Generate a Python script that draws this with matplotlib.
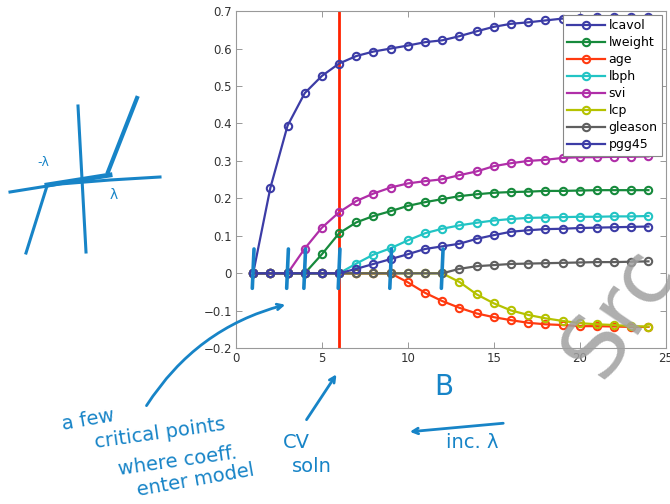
import matplotlib
matplotlib.use("Agg")
import matplotlib.pyplot as plt
import numpy as np

steps = list(range(1, 25))

lcavol = [0.0, 0.228, 0.394, 0.481, 0.527, 0.560, 0.580, 0.592, 0.600, 0.608, 0.617, 0.622,
          0.633, 0.646, 0.658, 0.666, 0.670, 0.675, 0.680, 0.682, 0.684, 0.684, 0.685, 0.685]
lweight = [0.0, 0.0, 0.0, 0.0, 0.051, 0.107, 0.136, 0.153, 0.166, 0.180, 0.190, 0.198,
           0.206, 0.211, 0.215, 0.217, 0.218, 0.220, 0.220, 0.221, 0.222, 0.222, 0.222, 0.222]
age = [0.0, 0.0, 0.0, 0.0, 0.0, 0.0, 0.0, 0.0, 0.0, -0.024, -0.052, -0.074,
       -0.092, -0.107, -0.117, -0.125, -0.132, -0.136, -0.138, -0.141, -0.141, -0.142, -0.143, -0.143]
lbph = [0.0, 0.0, 0.0, 0.0, 0.0, 0.0, 0.026, 0.050, 0.067, 0.088, 0.107, 0.119,
        0.128, 0.135, 0.141, 0.145, 0.148, 0.149, 0.150, 0.151, 0.151, 0.152, 0.152, 0.153]
svi = [0.0, 0.0, 0.0, 0.066, 0.122, 0.163, 0.193, 0.213, 0.229, 0.240, 0.246, 0.251,
       0.262, 0.272, 0.286, 0.294, 0.300, 0.303, 0.308, 0.310, 0.310, 0.311, 0.311, 0.312]
lcp = [0.0, 0.0, 0.0, 0.0, 0.0, 0.0, 0.0, 0.0, 0.0, 0.0, 0.0, 0.0,
       -0.023, -0.056, -0.080, -0.099, -0.111, -0.120, -0.127, -0.133, -0.136, -0.138, -0.141, -0.142]
gleason = [0.0, 0.0, 0.0, 0.0, 0.0, 0.0, 0.0, 0.0, 0.0, 0.0, 0.0, 0.0,
           0.012, 0.019, 0.022, 0.025, 0.026, 0.027, 0.028, 0.029, 0.030, 0.030, 0.031, 0.032]
pgg45 = [0.0, 0.0, 0.0, 0.0, 0.0, 0.0, 0.012, 0.025, 0.038, 0.051, 0.065, 0.072,
         0.079, 0.092, 0.102, 0.111, 0.115, 0.118, 0.119, 0.121, 0.122, 0.123, 0.124, 0.125]

names = ["lcavol", "lweight", "age", "lbph", "svi", "lcp", "gleason", "pgg45"]
series = [lcavol, lweight, age, lbph, svi, lcp, gleason, pgg45]
colors = ["#3c3ca6", "#168a3c", "#ff3a10", "#22c4c4", "#b02ea8", "#b5c200", "#5f5f5f", "#3c3ca6"]

cv_step = 6
critical_steps = [1, 3, 4, 6, 9, 12]

ink = "#1784c7"

fig = plt.figure(figsize=(6.7, 5.04), dpi=100)
ax = fig.add_axes([0.3522, 0.309, 0.6413, 0.669])

for name, vals, c in zip(names, series, colors):
    ax.plot(steps, vals, "-o", color=c, lw=1.6, ms=5.3, mew=1.5,
            mfc="none", label=name)

ax.axvline(cv_step, color="#ff2200", lw=2.0, zorder=1)

ax.set_xlim(0, 25)
ax.set_ylim(-0.2, 0.7)
ax.set_xticks([0, 5, 10, 15, 20, 25])
ax.set_yticks(np.arange(-0.2, 0.71, 0.1))
ax.set_yticklabels(["\u22120.2", "\u22120.1", "0", "0.1", "0.2", "0.3", "0.4", "0.5", "0.6", "0.7"])
ax.tick_params(direction="in", top=True, right=True, length=4, width=0.6,
               color="#888888", labelsize=8.5, labelcolor="#333333", pad=3)
for s in ax.spines.values():
    s.set_color("#999999")
    s.set_linewidth(0.8)

leg = ax.legend(loc="upper right", fontsize=9, handlelength=3.0, labelspacing=0.32,
                borderaxespad=0.3, fancybox=False, framealpha=1, borderpad=0.35,
                handletextpad=0.3)
leg.get_frame().set_edgecolor("#888888")
leg.get_frame().set_linewidth(0.8)

# handwritten critical point marks
for cs in critical_steps:
    ax.plot([cs - 0.05, cs + 0.05], [-0.04, 0.065], color=ink, lw=2.6,
            solid_capstyle="round", clip_on=False, zorder=6)

# overlay in pixel coords for the handwriting
ov = fig.add_axes([0, 0, 1, 1], facecolor="none")
ov.set_xlim(0, 670)
ov.set_ylim(504, 0)
ov.axis("off")

# left sketch
ov.plot([78, 86], [106, 252], color=ink, lw=2.2)
ov.plot([10, 60, 110, 160], [192, 184, 180, 177], color=ink, lw=2.2)
ov.plot([26, 47], [253, 186], color=ink, lw=2.2)
ov.plot([108, 137], [172, 98], color=ink, lw=3.0)
ov.plot([47, 110], [185, 175], color=ink, lw=3.5)
ov.text(43, 163, "-\u03bb", color=ink, fontsize=9, ha="center", va="center")
ov.text(114, 195, "\u03bb", color=ink, fontsize=10, ha="center", va="center")

# notes
hand = dict(color=ink, fontsize=14, ha="center", va="center")
ov.text(88, 420, "a few", rotation=10, **hand)
ov.text(160, 433, "critical points", rotation=8, **hand)
ov.text(178, 461, "where coeff.", rotation=8, **hand)
ov.text(196, 480, "enter model", rotation=10, **hand)
ov.annotate("", xy=(288, 304), xytext=(145, 408),
            arrowprops=dict(arrowstyle="->", color=ink, lw=2.0,
                            connectionstyle="arc3,rad=-0.2"))

ov.text(296, 443, "CV", **hand)
ov.text(312, 467, "soln", **hand)
ov.annotate("", xy=(338, 372), xytext=(305, 422),
            arrowprops=dict(arrowstyle="->", color=ink, lw=2.0))

ov.text(444, 387, "B", color=ink, fontsize=20, ha="center", va="center")
ov.annotate("", xy=(407, 432), xytext=(506, 423),
            arrowprops=dict(arrowstyle="->", color=ink, lw=2.0))
ov.text(472, 443, "inc. \u03bb", **hand)

# watermark
ov.text(620, 312, "Src", color="#a0a0a0", fontsize=62, rotation=56,
        ha="center", va="center", alpha=0.85, zorder=10)

fig.savefig("out.png", dpi=100)
